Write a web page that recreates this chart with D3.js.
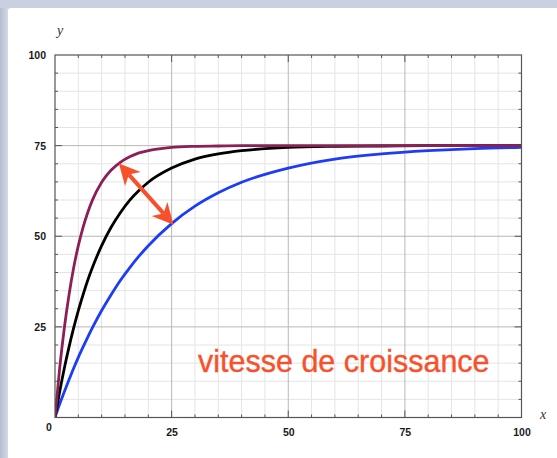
<!DOCTYPE html>
<html>
<head>
<meta charset="utf-8">
<script src="https://cdn.jsdelivr.net/npm/d3@7"></script>
<style>
  html, body { margin: 0; padding: 0; background: #ffffff; }
  svg { display: block; }
</style>
</head>
<body>
<svg id="chart" width="557" height="458"></svg>
<script>
// Sample abscissae shared by the three growth curves
const xs = [0, 1, 2, 3, 4, 5, 6, 7, 8, 10, 12, 14, 16, 18, 20, 25, 30, 35, 40, 50, 60, 70, 80, 90, 100];

// Fast growth (purple)
const fastY = [0, 13.6, 24.7, 33.8, 41.3, 47.4, 52.4, 56.5, 59.9, 64.9, 68.2, 70.4, 71.9, 73.0, 73.6, 74.5, 74.8, 74.9, 75, 75, 75, 75, 75, 75, 75];
// Medium growth (black)
const midY = [0, 7.1, 13.6, 19.4, 24.7, 29.5, 33.8, 37.8, 41.3, 47.4, 52.4, 56.5, 59.9, 62.6, 64.9, 68.8, 71.3, 72.7, 73.6, 74.5, 74.8, 74.9, 75, 75, 75];
// Slow growth (blue)
const slowY = [0, 3.7, 7.1, 10.4, 13.6, 16.6, 19.4, 22.1, 24.7, 29.5, 33.8, 37.8, 41.3, 44.5, 47.4, 53.5, 58.3, 62.0, 64.9, 68.8, 71.3, 72.7, 73.6, 74.2, 74.5];

const xTickLabels = [25, 50, 75, 100];
const yTickLabels = [25, 50, 75, 100];

// Double arrow between the fast and slow curves
const arrowFrom = [13.7, 70.1];
const arrowTo = [25.4, 53.2];
const annotation = "vitesse de croissance";

const svg = d3.select("#chart");

// Window frame
svg.append("rect").attr("width", 557).attr("height", 458).attr("fill", "#c9d1e1");
const defs = svg.append("defs");
const lg = defs.append("linearGradient").attr("id", "leftBand").attr("x1", 0).attr("x2", 1).attr("y1", 0).attr("y2", 0);
lg.append("stop").attr("offset", 0).attr("stop-color", "#b4bdcf");
lg.append("stop").attr("offset", 1).attr("stop-color", "#d3d9e6");
svg.append("rect").attr("x", 0).attr("y", 8).attr("width", 8).attr("height", 450).attr("fill", "url(#leftBand)");
svg.append("rect").attr("x", 8).attr("y", 8).attr("width", 560).attr("height", 470).attr("rx", 3).attr("fill", "#ffffff");

const x = d3.scaleLinear().domain([0, 100]).range([55, 521.5]);
const y = d3.scaleLinear().domain([0, 100]).range([417.5, 55]);

const grid = svg.append("g");
const steps = d3.range(0, 101, 5);

// Minor grid
grid.selectAll("line.vx").data(steps.filter(d => d % 25 !== 0)).join("line")
  .attr("x1", d => x(d)).attr("x2", d => x(d)).attr("y1", y(0)).attr("y2", y(100))
  .attr("stroke", "#e4e4e4").attr("stroke-width", 1);
grid.selectAll("line.hy").data(steps.filter(d => d % 25 !== 0)).join("line")
  .attr("y1", d => y(d)).attr("y2", d => y(d)).attr("x1", x(0)).attr("x2", x(100))
  .attr("stroke", "#e4e4e4").attr("stroke-width", 1);
// Major grid
const majors = [25, 50, 75];
grid.selectAll("line.mx").data(majors).join("line")
  .attr("x1", d => x(d)).attr("x2", d => x(d)).attr("y1", y(0)).attr("y2", y(100))
  .attr("stroke", "#b8b8b8").attr("stroke-width", 1);
grid.selectAll("line.my").data(majors).join("line")
  .attr("y1", d => y(d)).attr("y2", d => y(d)).attr("x1", x(0)).attr("x2", x(100))
  .attr("stroke", "#b8b8b8").attr("stroke-width", 1);

// Inner ticks on all four sides
const ticks = svg.append("g").attr("stroke", "#555").attr("stroke-width", 1);
steps.slice(1, -1).forEach(d => {
  const len = d % 25 === 0 ? 7 : 3;
  ticks.append("line").attr("x1", x(d)).attr("x2", x(d)).attr("y1", y(0)).attr("y2", y(0) - len);
  ticks.append("line").attr("x1", x(d)).attr("x2", x(d)).attr("y1", y(100)).attr("y2", y(100) + len);
  ticks.append("line").attr("y1", y(d)).attr("y2", y(d)).attr("x1", x(0)).attr("x2", x(0) + len);
  ticks.append("line").attr("y1", y(d)).attr("y2", y(d)).attr("x1", x(100)).attr("x2", x(100) - len);
});

// Curves
defs.append("clipPath").attr("id", "plotClip").append("rect")
  .attr("x", x(0)).attr("y", y(100)).attr("width", x(100) - x(0)).attr("height", y(0) - y(100));
const line = d3.line().x(d => x(d[0])).y(d => y(d[1])).curve(d3.curveMonotoneX);
const series = [
  { values: slowY, color: "#1d3cf7" },
  { values: midY, color: "#000000" },
  { values: fastY, color: "#8c1f55" }
];
svg.append("g").attr("clip-path", "url(#plotClip)")
  .selectAll("path").data(series).join("path")
  .attr("d", s => line(xs.map((v, i) => [v, s.values[i]])))
  .attr("fill", "none").attr("stroke", s => s.color).attr("stroke-width", 2.8)
  .attr("stroke-linejoin", "round");

// Plot frame
svg.append("rect").attr("x", x(0)).attr("y", y(100)).attr("width", x(100) - x(0)).attr("height", y(0) - y(100))
  .attr("fill", "none").attr("stroke", "#555").attr("stroke-width", 1.2);

// Tick labels
const labelFont = "Liberation Sans, Arial, Helvetica, sans-serif";
const xAxis = svg.append("g").attr("transform", `translate(0,${y(0)})`)
  .call(d3.axisBottom(x).tickValues(xTickLabels).tickSize(0).tickPadding(11));
const yAxis = svg.append("g").attr("transform", `translate(${x(0)},0)`)
  .call(d3.axisLeft(y).tickValues(yTickLabels).tickSize(0).tickPadding(9));
[xAxis, yAxis].forEach(a => {
  a.select(".domain").remove();
  a.selectAll("text").attr("font-family", labelFont).attr("font-size", 10.5)
    .attr("font-weight", "bold").attr("fill", "#1a1a1a");
});
svg.append("text").attr("x", 49).attr("y", 431).attr("text-anchor", "middle")
  .attr("font-family", labelFont).attr("font-size", 10.5).attr("font-weight", "bold").attr("fill", "#1a1a1a")
  .text("0");

// Axis names
svg.append("text").attr("x", 60).attr("y", 35).attr("text-anchor", "middle")
  .attr("font-family", "Liberation Serif, Times New Roman, serif").attr("font-style", "italic")
  .attr("font-size", 14).attr("fill", "#333").text("y");
svg.append("text").attr("x", 543).attr("y", 419).attr("text-anchor", "middle")
  .attr("font-family", "Liberation Serif, Times New Roman, serif").attr("font-style", "italic")
  .attr("font-size", 14).attr("fill", "#333").text("x");

// Double arrow
const arrowColor = "#f9502c";
const p0 = [x(arrowFrom[0]), y(arrowFrom[1])];
const p1 = [x(arrowTo[0]), y(arrowTo[1])];
const dx = p1[0] - p0[0], dy = p1[1] - p0[1];
const L = Math.hypot(dx, dy);
const ux = dx / L, uy = dy / L, nx = -uy, ny = ux;
const headLen = 21, headHalf = 10.5, notch = 6;
function head(tip, dir) {
  const bx = tip[0] + dir * ux * headLen, by = tip[1] + dir * uy * headLen;
  const mx = tip[0] + dir * ux * (headLen - notch), my = tip[1] + dir * uy * (headLen - notch);
  return `M${tip[0]},${tip[1]}L${bx + nx * headHalf},${by + ny * headHalf}L${mx},${my}L${bx - nx * headHalf},${by - ny * headHalf}Z`;
}
svg.append("line")
  .attr("x1", p0[0] + ux * (headLen - notch)).attr("y1", p0[1] + uy * (headLen - notch))
  .attr("x2", p1[0] - ux * (headLen - notch)).attr("y2", p1[1] - uy * (headLen - notch))
  .attr("stroke", arrowColor).attr("stroke-width", 4);
svg.append("path").attr("d", head(p0, 1)).attr("fill", arrowColor);
svg.append("path").attr("d", head(p1, -1)).attr("fill", arrowColor);

// Annotation
svg.append("text").attr("x", 198).attr("y", 372)
  .attr("font-family", labelFont).attr("font-size", 30.5).attr("fill", arrowColor)
  .attr("stroke", arrowColor).attr("stroke-width", 0.35)
  .text(annotation);
</script>
</body>
</html>
